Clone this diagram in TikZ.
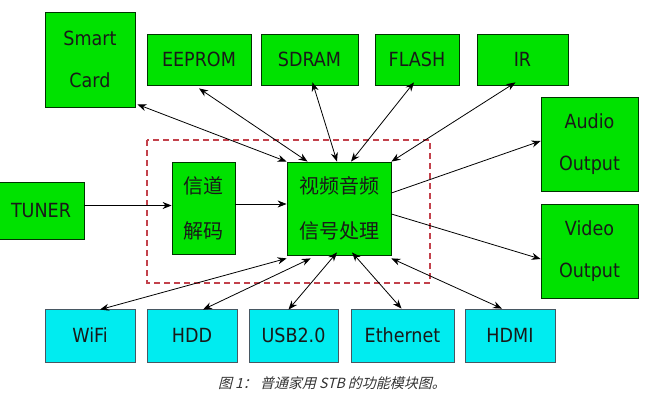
\documentclass[tikz,border=0pt]{standalone}
\usepackage{fontspec}
\setmainfont{DejaVu Sans Condensed}
\newfontfamily\cjk{Noto Sans CJK SC}
\newfontfamily\cjkit{Noto Sans CJK SC}[FakeSlant=0.25]
\usetikzlibrary{arrows.meta,calc}
\definecolor{boxgreen}{RGB}{0,226,0}
\definecolor{boxcyan}{RGB}{0,236,240}
\definecolor{dashred}{RGB}{195,65,75}
\definecolor{txt}{RGB}{25,25,25}
\tikzset{
  gbox/.style={draw=black!80!green, line width=0.8pt, fill=boxgreen, inner sep=0pt, align=center, text=txt,
    font=\fontsize{19.5}{42}\selectfont},
  cbox/.style={gbox, fill=boxcyan, draw=black!70!cyan},
  cnbox/.style={gbox, font=\cjk\fontsize{20}{45}\selectfont},
  conn/.style={draw=black, line width=0.8pt, {Stealth[length=9pt,width=7pt]}-{Stealth[length=9pt,width=7pt]}},
  oneway/.style={draw=black, line width=0.8pt, -{Stealth[length=9pt,width=7pt]}},
}
\begin{document}
\begin{tikzpicture}[x=1pt,y=-1pt]
\useasboundingbox (0,0) rectangle (650,403);
% top row
\node[gbox, minimum width=90, minimum height=95] (smart) at (90,59.5) {Smart\\Card};
\node[gbox, minimum width=104, minimum height=51] (eeprom) at (199,59.5) {EEPROM};
\node[gbox, minimum width=97, minimum height=51] (sdram) at (309.5,59.5) {SDRAM};
\node[gbox, minimum width=84, minimum height=51] (flash) at (417,59.5) {FLASH};
\node[gbox, minimum width=91, minimum height=51] (ir) at (522.5,59.5) {IR};
% right
\node[gbox, minimum width=97, minimum height=94] (audio) at (589.5,144) {Audio\\Output};
\node[gbox, minimum width=97, minimum height=94] (video) at (589.5,251) {Video\\Output};
% middle
\node[gbox, minimum width=86, minimum height=57] (tuner) at (41,210.5) {TUNER};
\draw[dashred, line width=1.3pt, dash pattern=on 6pt off 4pt] (147,140) rectangle (430,283);
\node[cnbox, minimum width=63, minimum height=92] (chan) at (203.5,208) {信道\\解码};
\node[cnbox, minimum width=104, minimum height=93] (proc) at (339,208.5) {视频音频\\信号处理};
% bottom row
\node[cbox, minimum width=90, minimum height=53] (wifi) at (90,335.5) {WiFi};
\node[cbox, minimum width=90, minimum height=53] (hdd) at (192,335.5) {HDD};
\node[cbox, minimum width=89, minimum height=53] (usb) at (293.5,335.5) {USB2.0};
\node[cbox, minimum width=103, minimum height=53] (eth) at (402.5,335.5) {Ethernet};
\node[cbox, minimum width=90, minimum height=53] (hdmi) at (510,335.5) {HDMI};
% caption
\node[font=\cjkit\fontsize{14}{16}\selectfont, text=black!80, inner sep=0pt] (cap) at (332,383) {图 1：\ 普通家用 STB 的功能模块图。};
% connectors
\draw[conn] ([shift={(2,-3)}]smart.south east) -- (proc.north west);
\draw[conn] ([yshift=-3pt]eeprom.south) -- ($(proc.north west)!0.2!(proc.north east)$);
\draw[conn] ([shift={(3,-3)}]sdram.south) -- ([xshift=-2pt]proc.north);
\draw[conn] ([shift={(-3,-3)}]flash.south) -- ([xshift=12pt]proc.north);
\draw[conn] ([shift={(-7,-3)}]ir.south) -- (proc.north east);
\draw[oneway] ([yshift=15.5pt]proc.east) -- ([yshift=3pt]audio.west);
\draw[oneway] ([yshift=-5.5pt]proc.east) -- ([yshift=-8pt]video.west);
\draw[oneway] ([yshift=5pt]tuner.east) -- ([yshift=5pt]tuner.east -| chan.west);
\draw[oneway] ([yshift=4pt]chan.east) -- ([yshift=4pt]chan.east -| proc.west);
\draw[conn] ([shift={(10,1)}]wifi.north) -- ([yshift=-3pt]proc.south west);
\draw[conn] ([shift={(11,1)}]hdd.north) -- ([yshift=-3pt]$(proc.south west)!0.23!(proc.south east)$);
\draw[conn] ([shift={(-5,1)}]usb.north) -- ([shift={(-2,-3)}]proc.south);
\draw[conn] ([shift={(-1,0)}]eth.north) -- ([shift={(13,-3)}]proc.south);
\draw[conn] ([shift={(-8,0)}]hdmi.north) -- ([yshift=-3pt]proc.south east);
\end{tikzpicture}
\end{document}
